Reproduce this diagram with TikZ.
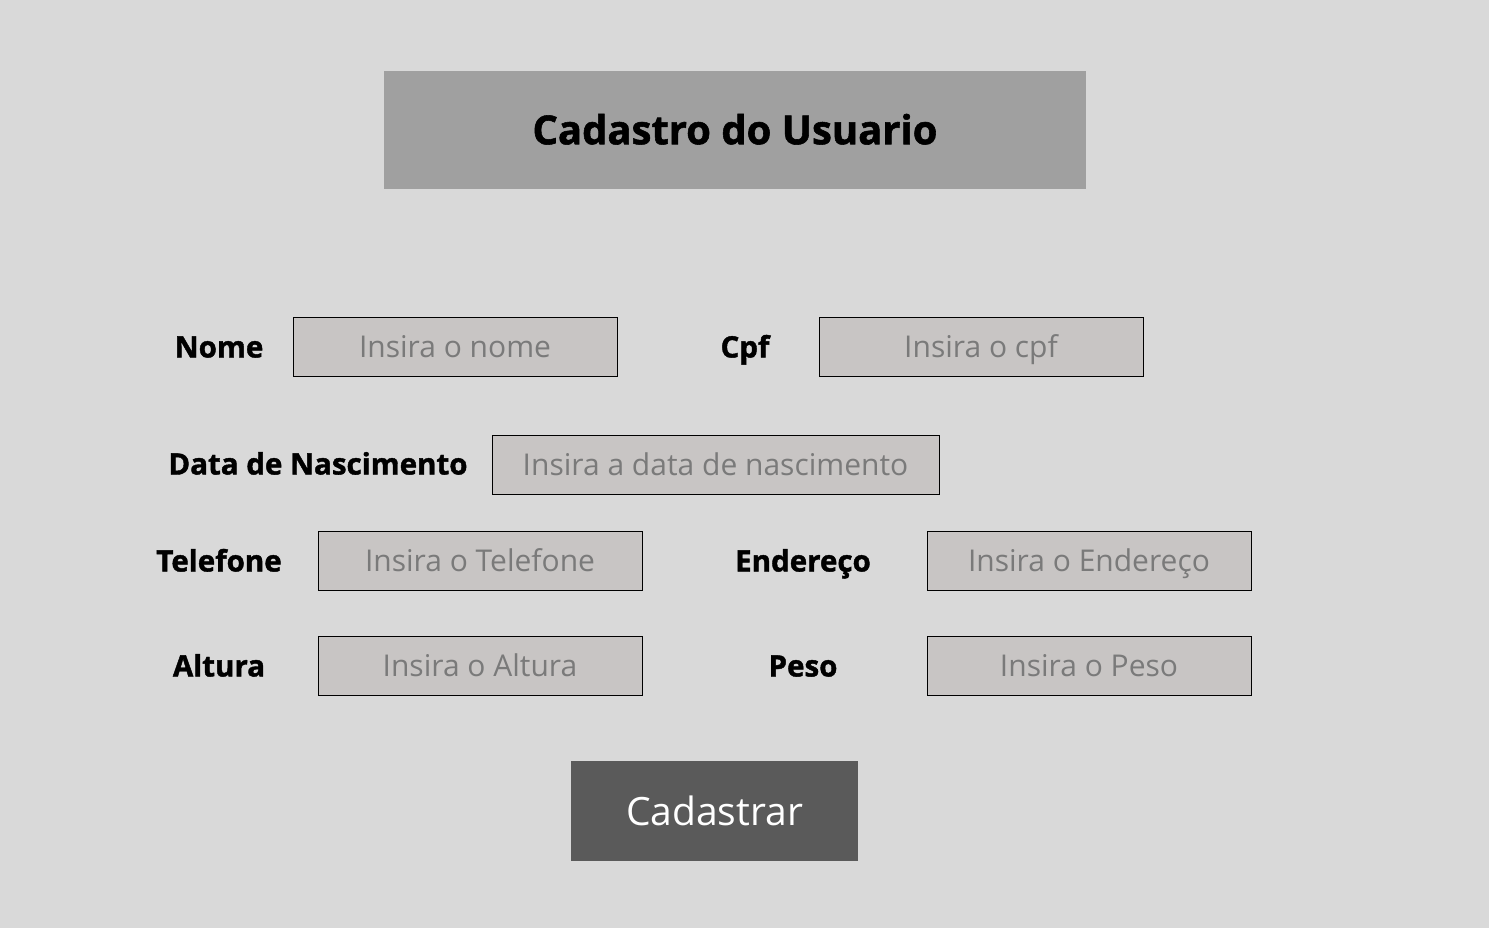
\documentclass[tikz,border=0pt]{standalone}
\usepackage{fontspec}
\setmainfont{Open Sans}
\newfontfamily\heavyfont{Open Sans}[BoldFeatures={FakeBold=1.4}]
\definecolor{bg}{HTML}{D9D9D9}
\definecolor{titlefill}{HTML}{A0A0A0}
\definecolor{fieldfill}{HTML}{C8C5C4}
\definecolor{btnfill}{HTML}{5A5A5A}
\definecolor{ph}{HTML}{7A7A7A}
\begin{document}
\begin{tikzpicture}[x=1pt,y=-1pt,
  lbl/.style={font=\heavyfont\fontsize{29.5}{34}\selectfont\bfseries, text=black, inner sep=0pt,
    text height=31pt, text depth=10pt},
  field/.style={draw=black, line width=1pt, fill=fieldfill, minimum height=59pt, inner sep=0pt,
    font=\fontsize{30}{34}\selectfont, text=ph, text height=31pt, text depth=10pt},
]
\path[fill=bg] (0,0) rectangle (1489,928);
\useasboundingbox (0,0) rectangle (1489,928);
\node[fill=titlefill, minimum width=702pt, minimum height=118pt, inner sep=0pt,
  font=\heavyfont\fontsize{40}{44}\selectfont\bfseries, text height=38.5pt, text depth=10pt] (title) at (735,130) {Cadastro do Usuario};

\node[lbl] (lnome) at (219,347) {Nome};
\node[field, minimum width=324pt] (fnome) at (455,346.5) {Insira o nome};
\node[lbl] (lcpf) at (745,347) {Cpf};
\node[field, minimum width=324pt] (fcpf) at (981,346.5) {Insira o cpf};

\node[lbl] (ldata) at (318,464) {Data de Nascimento};
\node[field, minimum width=447pt] (fdata) at (715.5,464.5) {Insira a data de nascimento};

\node[lbl] (ltel) at (219,561) {Telefone};
\node[field, minimum width=324pt] (ftel) at (480,560.5) {Insira o Telefone};
\node[lbl] (lend) at (803,561) {Endereço};
\node[field, minimum width=324pt] (fend) at (1089,560.5) {Insira o Endereço};

\node[lbl] (lalt) at (219,666) {Altura};
\node[field, minimum width=324pt] (falt) at (480,665.5) {Insira o Altura};
\node[lbl] (lpeso) at (803,666) {Peso};
\node[field, minimum width=324pt] (fpeso) at (1089,665.5) {Insira o Peso};

\node[fill=btnfill, minimum width=287pt, minimum height=100pt, inner sep=0pt, text=white,
  font=\fontsize{39}{44}\selectfont, text height=38pt, text depth=10pt] (btn) at (714.5,811) {Cadastrar};
\end{tikzpicture}
\end{document}
